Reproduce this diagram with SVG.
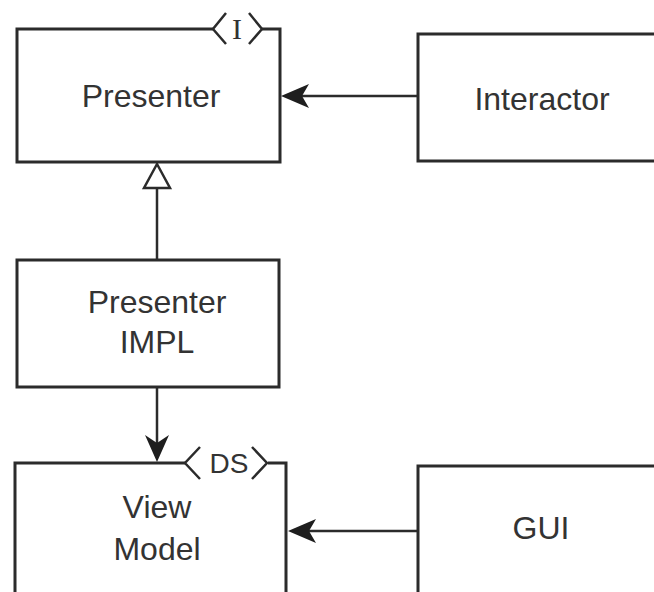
<svg xmlns="http://www.w3.org/2000/svg" width="654" height="592" viewBox="0 0 654 592">
  <style>
    .box { fill: none; stroke: #2b2b2b; stroke-width: 3; stroke-linejoin: miter; }
    .edge { fill: none; stroke: #2b2b2b; stroke-width: 2.5; }
    .head { fill: #1e1e1e; stroke: none; }
    .hollow { fill: #ffffff; stroke: #2b2b2b; stroke-width: 2.5; stroke-linejoin: miter; }
    .lbl { font-family: "Liberation Sans", Arial, sans-serif; font-size: 32px; fill: #333333; text-anchor: middle; }
    .tag { font-family: "Liberation Sans", Arial, sans-serif; font-size: 28px; fill: #333333; text-anchor: middle; }
    .tagI { font-family: "Liberation Serif", "Times New Roman", serif; font-size: 30px; fill: #333333; text-anchor: middle; }
    .chev { fill: none; stroke: #2b2b2b; stroke-width: 2.5; stroke-linejoin: miter; }
  </style>
  <rect width="654" height="592" fill="#ffffff"/>

  <g id="presenter">
    <path class="box" d="M214,29 H17 V162 H280 V29 H261"/>
    <path class="chev" d="M226,13 L213,29 L226,44"/>
    <path class="chev" d="M249,13 L262,29 L249,44"/>
    <text class="tagI" x="237" y="39">I</text>
    <text class="lbl" x="151" y="107">Presenter</text>
  </g>

  <g id="interactor">
    <path class="box" d="M660,34 H418 V161 H660"/>
    <text class="lbl" x="542" y="110">Interactor</text>
  </g>

  <g id="presenter-impl">
    <rect class="box" x="17" y="260" width="262" height="127"/>
    <text class="lbl" x="157" y="313">Presenter</text>
    <text class="lbl" x="157" y="353">IMPL</text>
  </g>

  <g id="view-model">
    <path class="box" d="M185,463 H15 V600 M268,463 H286 V600"/>
    <path class="chev" d="M200,447 L185,463 L200,479"/>
    <path class="chev" d="M252,447 L267,463 L252,479"/>
    <text class="tag" x="229" y="473">DS</text>
    <text class="lbl" x="157" y="518">View</text>
    <text class="lbl" x="157" y="560">Model</text>
  </g>

  <g id="gui">
    <path class="box" d="M660,466 H418 V600"/>
    <text class="lbl" x="541" y="539">GUI</text>
  </g>

  <g id="connectors">
    <!-- Interactor -> Presenter -->
    <line class="edge" x1="418" y1="96" x2="300" y2="96"/>
    <path class="head" d="M281,96 L309,84 L302,96 L309,108 Z"/>
    <!-- Presenter IMPL -> Presenter (realization) -->
    <line class="edge" x1="157" y1="260" x2="157" y2="188"/>
    <path class="hollow" d="M157,164 L170,188 L144,188 Z"/>
    <!-- Presenter IMPL -> View Model -->
    <line class="edge" x1="157" y1="387" x2="157" y2="445"/>
    <path class="head" d="M157,462 L145,435 L157,443 L169,435 Z"/>
    <!-- GUI -> View Model -->
    <line class="edge" x1="418" y1="531" x2="305" y2="531"/>
    <path class="head" d="M288,531 L316,519 L309,531 L316,543 Z"/>
  </g>
</svg>
